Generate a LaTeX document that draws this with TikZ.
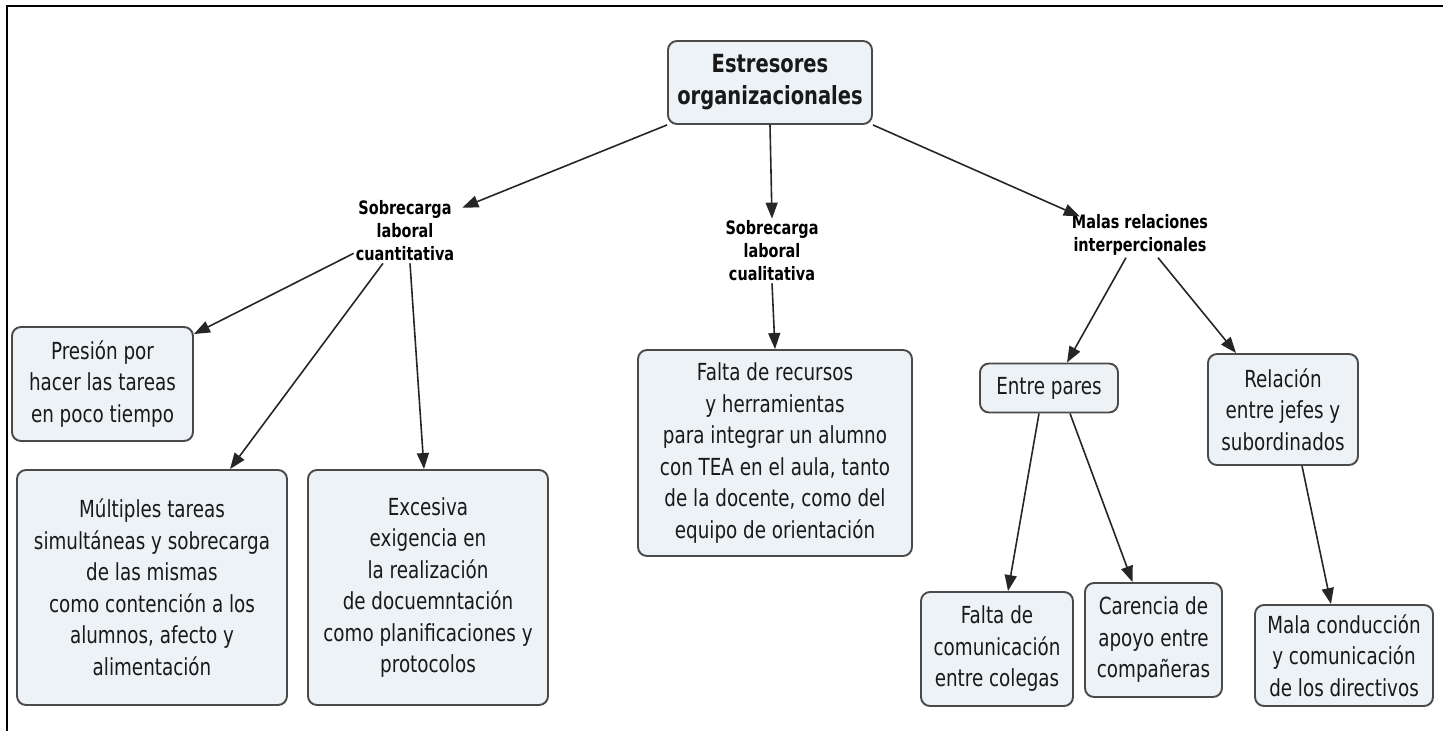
\documentclass[tikz,border=0pt]{standalone}
\usepackage{fontspec}
\setmainfont{DejaVu Sans}[FakeStretch=0.78]
\usepackage{xcolor}
\usetikzlibrary{arrows.meta}
\definecolor{boxfill}{HTML}{EDF2F6}
\definecolor{boxline}{HTML}{4A4A4A}

\begin{document}
\begin{tikzpicture}[x=1pt, y=-1pt,
    box/.style={draw=boxline, fill=boxfill, line width=1.9pt, rounded corners=9pt,
        align=center, inner sep=0pt, text=black!90, font=\fontsize{23.5}{31.5}\selectfont},
    lbl/.style={align=center, inner sep=2pt, text=black, font=\bfseries\fontsize{18.5}{23}\selectfont},
    arr/.style={-{Triangle[length=16pt,width=12pt]}, line width=1.6pt, draw=black!85}]
    \useasboundingbox (0,0) rectangle (1443,731);
    \draw[line width=2.5pt] (7,731) -- (7,6) -- (1443,6);

    % root and the three branches
    \node[box, minimum width=204, minimum height=83, font=\bfseries\fontsize{25}{32}\selectfont]
        (root) at (770,82.5) {Estresores\\organizacionales};
    \node[lbl] (cuanti) at (405,231) {Sobrecarga\\laboral\\cuantitativa};
    \node[lbl] (cuali) at (772,251) {Sobrecarga\\laboral\\cualitativa};
    \node[lbl] (malas) at (1140,235) {Malas relaciones\\interpercionales};

    % boxes
    \node[box, minimum width=181, minimum height=114] (presion) at (102.5,384) {Presión por\\hacer las tareas\\en poco tiempo};
    \node[box, minimum width=270, minimum height=235] (multiples) at (152,587.5) {Múltiples tareas\\simultáneas y sobrecarga\\de las mismas\\como contención a los\\alumnos, afecto y\\alimentación};
    \node[box, minimum width=240, minimum height=235] (excesiva) at (428,587.5) {Excesiva\\exigencia en\\la realización\\de docuemntación\\como planificaciones y\\protocolos};
    \node[box, minimum width=274, minimum height=206] (recursos) at (775,453) {Falta de recursos\\y herramientas\\para integrar un alumno\\con TEA en el aula, tanto\\de la docente, como del\\equipo de orientación};
    \node[box, minimum width=138, minimum height=49] (pares) at (1049,388) {Entre pares};
    \node[box, minimum width=150, minimum height=111] (jefes) at (1283,409.5) {Relación\\entre jefes y\\subordinados};
    \node[box, minimum width=152, minimum height=114] (colegas) at (997,649) {Falta de\\comunicación\\entre colegas};
    \node[box, minimum width=137, minimum height=114] (apoyo) at (1153.5,640) {Carencia de\\apoyo entre\\compañeras};
    \node[box, minimum width=178, minimum height=101] (directivos) at (1344,655.5) {Mala conducción\\y comunicación\\de los directivos};

    % connectors
    \draw[arr] (root.south west) -- ([xshift=6,yshift=-9]cuanti.north east);
    \draw[arr] (root.south) -- (cuali.north);
    \draw[arr] (root.south east) -- ([xshift=10,yshift=-4]malas.north west);
    \draw[arr] ([yshift=10]cuanti.south west) -- ([yshift=-8]presion.north east);
    \draw[arr] ([xshift=-22]cuanti.south) -- ([xshift=78]multiples.north);
    \draw[arr] ([xshift=5]cuanti.south) -- ([xshift=-4]excesiva.north);
    \draw[arr] (cuali.south) -- (recursos.north);
    \draw[arr] ([xshift=-14]malas.south) -- ([xshift=18]pares.north);
    \draw[arr] ([xshift=18]malas.south) -- ([xshift=-47]jefes.north);
    \draw[arr] ([xshift=-10]pares.south) -- ([xshift=11]colegas.north);
    \draw[arr] ([xshift=21]pares.south) -- ([xshift=-21]apoyo.north);
    \draw[arr] ([xshift=19]jefes.south) -- ([xshift=-13]directivos.north);
\end{tikzpicture}
\end{document}
